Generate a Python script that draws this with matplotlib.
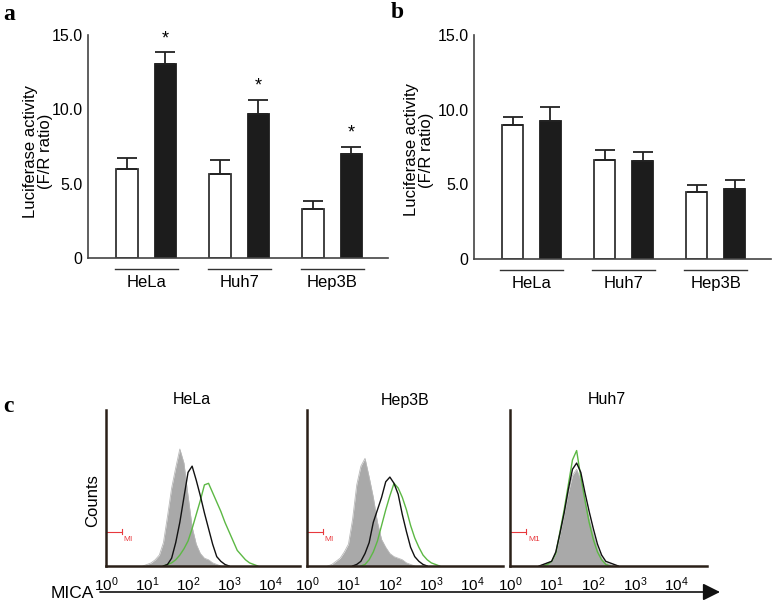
import numpy as np
import matplotlib.pyplot as plt

plt.rcParams['font.family'] = ['Liberation Sans', 'DejaVu Sans']
plt.rcParams['mathtext.fontset'] = 'custom'
plt.rcParams['mathtext.rm'] = 'Liberation Sans'
plt.rcParams['mathtext.it'] = 'Liberation Sans:italic'

W, H = 774, 602

# panels a / b : luciferase activity
cells = ['HeLa', 'Huh7', 'Hep3B']
a_ctrl = [6.0, 5.64, 3.31]
a_ctrl_err = [0.76, 0.94, 0.50]
a_treat = [13.03, 9.69, 6.98]
a_treat_err = [0.80, 0.97, 0.50]
b_ctrl = [8.97, 6.63, 4.51]
b_ctrl_err = [0.52, 0.65, 0.42]
b_treat = [9.22, 6.56, 4.69]
b_treat_err = [0.94, 0.61, 0.58]
yticks = [0, 5, 10, 15]
yticklabels = ['0', '5.0', '10.0', '15.0']

# panel c : flow histograms, counts per 0.1-decade bin, first bin in log10 units
hist_titles = ['HeLa', 'Hep3B', 'Huh7']
hela_iso = [1, 2, 4, 7, 15, 32, 50, 63, 75, 66, 45, 25, 14, 8, 5, 4, 2, 1]
hela_ctrl = [1, 5, 15, 28, 44, 60, 64, 55, 45, 34, 24, 14, 6, 3, 1]
hela_mica = [1, 2, 4, 7, 11, 16, 24, 33, 42, 52, 53, 47, 41, 35, 28, 22, 16, 10, 7, 4, 2, 1]
hep3b_iso = [1, 3, 5, 9, 14, 30, 52, 64, 69, 57, 44, 28, 17, 12, 8, 6, 5, 4, 2, 1]
hep3b_ctrl = [1, 3, 8, 15, 28, 36, 44, 54, 57, 53, 46, 33, 22, 12, 6, 3, 1]
hep3b_mica = [1, 4, 9, 16, 26, 36, 45, 53, 50, 44, 36, 26, 18, 12, 7, 4, 2, 1]
huh7_iso = [1, 2, 3, 8, 20, 33, 47, 58, 62, 55, 42, 30, 20, 11, 5, 2, 1]
huh7_ctrl = [1, 2, 3, 9, 21, 34, 49, 62, 66, 60, 47, 35, 24, 14, 7, 3, 2, 1]
huh7_mica = [1, 3, 8, 22, 36, 52, 68, 74, 57, 42, 28, 17, 9, 4, 1]
iso_start = [1.0, 0.6, 0.8]
ctrl_start = [1.5, 1.2, 0.8]
mica_start = [1.5, 1.4, 0.9]
marker_labels = ['MI', 'MI', 'M1']


def px_rect(left, right, top, bottom):
    return [left / W, 1 - bottom / H, (right - left) / W, (bottom - top) / H]


def hist_xy(vals, start):
    v = np.concatenate([[0], vals, [0]])
    x = 10 ** (start - 0.1 + 0.1 * np.arange(len(v)))
    return x, v


fig = plt.figure(figsize=(W / 100, H / 100), dpi=100)


def bar_panel(rect, ctrl, ctrl_err, treat, treat_err, stars):
    ax = fig.add_axes(rect)
    x = np.arange(len(cells))
    off, w = 0.205, 0.23
    ax.bar(x - off, ctrl, w, color='white', edgecolor='#333333', linewidth=1.3, zorder=2)
    ax.bar(x + off, treat, w, color='#1c1c1c', edgecolor='#1c1c1c', linewidth=1.3, zorder=2)
    ax.errorbar(x - off, ctrl, yerr=[np.zeros(3), ctrl_err], fmt='none', ecolor='#222222',
                elinewidth=1.3, capsize=7, capthick=1.3, zorder=3)
    ax.errorbar(x + off, treat, yerr=[np.zeros(3), treat_err], fmt='none', ecolor='#222222',
                elinewidth=1.3, capsize=7, capthick=1.3, zorder=3)
    if stars:
        for xi, t, e in zip(x, treat, treat_err):
            ax.text(xi + off, t + e + 0.6, '*', ha='center', va='baseline', fontsize=13)
    ax.set_xlim(-0.625, 2.6)
    ax.set_ylim(0, 15)
    ax.set_yticks(yticks)
    ax.set_yticklabels(yticklabels, fontsize=11.5)
    ax.tick_params(axis='y', length=0, pad=4)
    ax.set_xticks([])
    for s in ['top', 'right']:
        ax.spines[s].set_visible(False)
    for s in ['left', 'bottom']:
        ax.spines[s].set_color('#444444')
        ax.spines[s].set_linewidth(1.2)
    tr = ax.get_xaxis_transform()
    for xi, name in zip(x, cells):
        ax.plot([xi - 0.34, xi + 0.34], [-0.049, -0.049], color='#333333', lw=1,
                transform=tr, clip_on=False)
        ax.text(xi, -0.108, name, ha='center', va='center', fontsize=12, transform=tr)
    return ax


bar_panel(px_rect(88, 388, 35, 258), a_ctrl, a_ctrl_err, a_treat, a_treat_err, True)
bar_panel(px_rect(474, 771, 35, 259), b_ctrl, b_ctrl_err, b_treat, b_treat_err, False)

fig.text(38 / W, 1 - 151 / H, 'Luciferase activity\n(F/R ratio)', rotation=90,
         ha='center', va='center', fontsize=12, linespacing=1.05)
fig.text(419 / W, 1 - 150 / H, 'Luciferase activity\n(F/R ratio)', rotation=90,
         ha='center', va='center', fontsize=12, linespacing=1.05)

panel_font = dict(fontsize=17, fontweight='bold', family=['Liberation Serif', 'DejaVu Serif'])
fig.text(3 / W, 1 - 15 / H, 'a', ha='left', va='center', **panel_font)
fig.text(391 / W, 1 - 13 / H, 'b', ha='left', va='center', **panel_font)
fig.text(3 / W, 1 - 407 / H, 'c', ha='left', va='center', **panel_font)

# panel c
hist_sets = [(hela_iso, hela_ctrl, hela_mica),
             (hep3b_iso, hep3b_ctrl, hep3b_mica),
             (huh7_iso, huh7_ctrl, huh7_mica)]
hist_px = [(106, 300), (307, 503), (510, 707)]
title_x = [192, 405, 607]
for i, (iso, ctrl, mica) in enumerate(hist_sets):
    l, r = hist_px[i]
    ax = fig.add_axes(px_rect(l, r, 410, 566))
    ax.set_xscale('log')
    xs, vs = hist_xy(iso, iso_start[i])
    ax.fill_between(xs, vs, color='#a9a9a9', lw=0)
    ax.plot(xs, vs, color='#b8b8b8', lw=0.6)
    xs, vs = hist_xy(mica, mica_start[i])
    ax.plot(xs, vs, color='#5cb844', lw=1.0)
    xs, vs = hist_xy(ctrl, ctrl_start[i])
    ax.plot(xs, vs, color='#111111', lw=1.0)
    # M1 gate marker
    ax.plot([1, 10 ** 0.39], [22, 22], color='#e8383d', lw=0.8, clip_on=False)
    ax.plot([10 ** 0.39, 10 ** 0.39], [20.3, 23.7], color='#e8383d', lw=0.8)
    ax.text(10 ** 0.43, 19.5, marker_labels[i], color='#e8383d', fontsize=6,
            ha='left', va='top')
    ax.set_xlim(1, 10 ** 4.73)
    ax.set_ylim(0, 100)
    ax.set_yticks([])
    ax.set_xticks([1, 10, 100, 1e3, 1e4])
    ax.set_xticklabels([r'$10^{%d}$' % k for k in range(5)], fontsize=11)
    ax.minorticks_off()
    ax.tick_params(axis='x', length=0, pad=7)
    for s in ['top', 'right']:
        ax.spines[s].set_visible(False)
    for s in ['left', 'bottom']:
        ax.spines[s].set_color('#2a2018')
        ax.spines[s].set_linewidth(1.8)
    fig.text(title_x[i] / W, 1 - 400 / H, hist_titles[i], ha='center', va='center', fontsize=11.5)

fig.text(93 / W, 1 - 501 / H, 'Counts', rotation=90, ha='center', va='center', fontsize=12)
fig.text(72 / W, 1 - 593 / H, 'MICA', ha='center', va='center', fontsize=12.5)
fig.axes[0].annotate('', xy=(720, H - 592), xytext=(100, H - 592),
                     xycoords='figure pixels', textcoords='figure pixels',
                     arrowprops=dict(arrowstyle='-|>', mutation_scale=26, lw=1.2,
                                     color='#111111', shrinkA=0, shrinkB=0))

fig.savefig('out.png', dpi=100)
